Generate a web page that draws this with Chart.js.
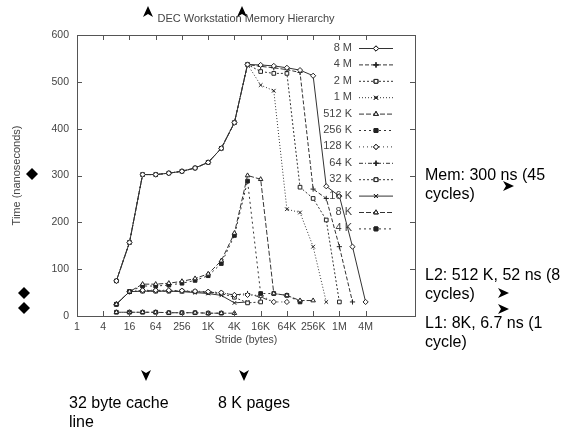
<!DOCTYPE html>
<html>
<head>
<meta charset="utf-8">
<script src="https://cdn.jsdelivr.net/npm/chart.js@4.4.0/dist/chart.umd.min.js"></script>
<style>
  html, body { margin: 0; padding: 0; background: #fff; }
</style>
</head>
<body>
<canvas id="memChart" width="563" height="430"></canvas>
<script>
// strides (bytes) on the x axis
const strides = [8, 16, 32, 64, 128, 256, 512, 1024, 2048, 4096, 8192, 16384, 32768,
    65536, 131072, 262144, 524288, 1048576, 2097152, 4194304];
const xTickValues = [1, 4, 16, 64, 256, 1024, 4096, 16384, 65536, 262144, 1048576, 4194304];
const xTickLabels = ['1', '4', '16', '64', '256', '1K', '4K', '16K', '64K', '256K', '1M', '4M'];

// array sizes (legend)
const sizeLabels = ['8 M', '4 M', '2 M', '1 M', '512 K', '256 K', '128 K', '64 K', '32 K', '16 K', '8 K', '4 K'];

// access time in ns, one value per stride (up to size/2)
const t8M   = [75, 157, 302, 302, 305, 309, 316, 328, 358, 413, 537, 536, 534, 530, 525, 513, 277, 256, 148, 30];
const t4M   = [75, 157, 302, 302, 305, 309, 316, 328, 358, 413, 537, 533, 530, 526, 520, 271, 251, 148, 30];
const t2M   = [75, 157, 302, 302, 305, 309, 316, 328, 358, 413, 537, 522, 518, 518, 275, 251, 205, 30];
const t1M   = [75, 157, 302, 302, 305, 309, 316, 328, 358, 413, 537, 493, 481, 228, 221, 148, 30];
const t512K = [25, 52, 68, 68, 70, 74, 80, 90, 118, 177, 300, 292, 48, 44, 33, 33];
const t256K = [25, 52, 64, 64, 66, 70, 76, 86, 112, 172, 288, 48, 48, 44, 30];
const t128K = [25, 52, 55, 55, 55, 54, 53, 52, 50, 45, 45, 44, 30, 30];
const t64K  = [25, 52, 54, 54, 54, 53, 52, 51, 49, 45, 48, 40, 30];
const t32K  = [25, 52, 53, 53, 53, 53, 52, 50, 48, 40, 28, 30];
const t16K  = [25, 52, 53, 53, 53, 52, 50, 48, 44, 28, 30];
const t8K   = [8, 8, 8, 8, 7, 7, 7, 6, 6, 6];
const t4K   = [8, 8, 8, 8, 7, 7, 7, 6, 6];

const seriesValues = [t8M, t4M, t2M, t1M, t512K, t256K, t128K, t64K, t32K, t16K, t8K, t4K];
const pointStyles = ['rectRot', 'cross', 'rect', 'crossRot', 'triangle', 'rect',
    'rectRot', 'cross', 'rect', 'crossRot', 'triangle', 'rect'];
const filledMarks = [false, false, false, false, false, true, false, false, false, false, false, true];
const dashes = [[], [4, 2], [2, 2], [1, 2], [5, 2], [2, 3], [1, 3], [4, 2, 1, 2], [2, 2], [], [5, 2], [2, 3]];

const FONT = "'Liberation Sans', Arial, sans-serif";

const datasets = seriesValues.map((vals, i) => ({
    label: sizeLabels[i],
    data: vals.map((v, j) => ({ x: strides[j], y: v })),
    borderColor: '#333',
    borderWidth: 1,
    borderDash: dashes[i],
    pointStyle: pointStyles[i],
    pointRadius: 2.6,
    pointBorderWidth: 1,
    pointBorderColor: '#222',
    pointBackgroundColor: filledMarks[i] ? '#222' : '#fff',
    tension: 0
}));

function arrowHead(ctx, x, y, angle) {
    ctx.save();
    ctx.translate(x, y);
    ctx.rotate(angle);
    ctx.beginPath();
    ctx.moveTo(6, 0);
    ctx.lineTo(-5, -5);
    ctx.lineTo(-2, 0);
    ctx.lineTo(-5, 5);
    ctx.closePath();
    ctx.fillStyle = '#000';
    ctx.fill();
    ctx.restore();
}

function diamond(ctx, x, y) {
    ctx.beginPath();
    ctx.moveTo(x, y - 6);
    ctx.lineTo(x + 6, y);
    ctx.lineTo(x, y + 6);
    ctx.lineTo(x - 6, y);
    ctx.closePath();
    ctx.fillStyle = '#000';
    ctx.fill();
}

const framePlugin = {
    id: 'frame',
    afterDraw(chart) {
        const { ctx, chartArea: a, scales: { x, y } } = chart;
        ctx.save();

        // box and inward ticks, gnuplot style
        ctx.strokeStyle = '#555';
        ctx.lineWidth = 1;
        ctx.setLineDash([]);
        ctx.strokeRect(a.left + 0.5, a.top + 0.5, a.right - a.left, a.bottom - a.top);
        ctx.beginPath();
        x.ticks.forEach(t => {
            const px = Math.round(x.getPixelForValue(t.value)) + 0.5;
            ctx.moveTo(px, a.bottom); ctx.lineTo(px, a.bottom - 5);
            ctx.moveTo(px, a.top); ctx.lineTo(px, a.top + 5);
        });
        y.ticks.forEach(t => {
            const py = Math.round(y.getPixelForValue(t.value)) + 0.5;
            ctx.moveTo(a.left, py); ctx.lineTo(a.left + 5, py);
            ctx.moveTo(a.right, py); ctx.lineTo(a.right - 5, py);
        });
        ctx.stroke();

        // legend inside the plot
        ctx.font = '11px ' + FONT;
        ctx.textAlign = 'right';
        ctx.textBaseline = 'middle';
        chart.data.datasets.forEach((ds, i) => {
            const ly = 48 + i * 16.4;
            ctx.fillStyle = '#444';
            ctx.fillText(ds.label, 352, ly);
            ctx.strokeStyle = '#333';
            ctx.setLineDash(ds.borderDash);
            ctx.beginPath();
            ctx.moveTo(359, ly + 0.5);
            ctx.lineTo(393, ly + 0.5);
            ctx.stroke();
            ctx.setLineDash([]);
            Chart.helpers.drawPoint(ctx, {
                pointStyle: ds.pointStyle, radius: 2.6, borderWidth: 1, rotation: 0
            }, 376, ly + 0.5);
            ctx.fillStyle = ds.pointBackgroundColor;
            ctx.strokeStyle = '#222';
            Chart.helpers.drawPoint(ctx, {
                pointStyle: ds.pointStyle, radius: 2.6, borderWidth: 1, rotation: 0
            }, 376, ly + 0.5);
            ctx.fill();
            ctx.stroke();
        });

        // title
        ctx.font = '11px ' + FONT;
        ctx.fillStyle = '#444';
        ctx.textAlign = 'center';
        ctx.fillText('DEC Workstation Memory Hierarchy', 246, 19);

        // annotations
        ctx.font = '16px ' + FONT;
        ctx.fillStyle = '#000';
        ctx.textAlign = 'left';
        ctx.fillText('Mem: 300 ns (45', 425, 176);
        ctx.fillText('cycles)', 425, 195);
        ctx.fillText('L2: 512 K, 52 ns (8', 425, 276);
        ctx.fillText('cycles)', 425, 295);
        ctx.fillText('L1: 8K, 6.7 ns (1', 425, 324);
        ctx.fillText('cycle)', 425, 343);
        ctx.fillText('32 byte cache', 69, 404);
        ctx.fillText('line', 69, 423);
        ctx.fillText('8 K pages', 218, 404);

        arrowHead(ctx, 148, 12, -Math.PI / 2);
        arrowHead(ctx, 242, 12, -Math.PI / 2);
        arrowHead(ctx, 508, 186, 0);
        arrowHead(ctx, 503, 293, 0);
        arrowHead(ctx, 503, 309, 0);
        arrowHead(ctx, 146, 375, Math.PI / 2);
        arrowHead(ctx, 244, 375, Math.PI / 2);

        diamond(ctx, 32, 174);
        diamond(ctx, 24, 293);
        diamond(ctx, 24, 308);

        ctx.restore();
    }
};

new Chart(document.getElementById('memChart'), {
    type: 'line',
    data: { datasets: datasets },
    options: {
        responsive: false,
        animation: false,
        layout: { padding: { top: 35, right: 148, left: 0, bottom: 0 } },
        plugins: { legend: { display: false }, tooltip: { enabled: false } },
        scales: {
            x: {
                type: 'logarithmic',
                min: 1,
                max: 57000000,
                grid: { display: false, drawTicks: false },
                border: { display: false },
                afterBuildTicks: s => { s.ticks = xTickValues.map(v => ({ value: v })); },
                afterFit: s => { s.height = 114; s.paddingLeft = 0; s.paddingRight = 0; },
                ticks: {
                    autoSkip: false,
                    maxRotation: 0,
                    padding: 5,
                    color: '#444',
                    font: { family: FONT, size: 10.5 },
                    callback: (v, i) => xTickLabels[i]
                },
                title: {
                    display: true,
                    text: 'Stride (bytes)',
                    color: '#444',
                    font: { family: FONT, size: 10.5 },
                    padding: { top: 0, bottom: 84 }
                }
            },
            y: {
                min: 0,
                max: 600,
                grid: { display: false, drawTicks: false },
                border: { display: false },
                afterFit: s => { s.width = 77; s.paddingTop = 0; s.paddingBottom = 0; },
                ticks: {
                    stepSize: 100,
                    padding: 8,
                    color: '#444',
                    font: { family: FONT, size: 10.5 }
                },
                title: {
                    display: true,
                    text: 'Time (nanoseconds)',
                    color: '#444',
                    font: { family: FONT, size: 11 },
                    padding: { top: 10, bottom: 0 }
                }
            }
        }
    },
    plugins: [framePlugin]
});
</script>
</body>
</html>
